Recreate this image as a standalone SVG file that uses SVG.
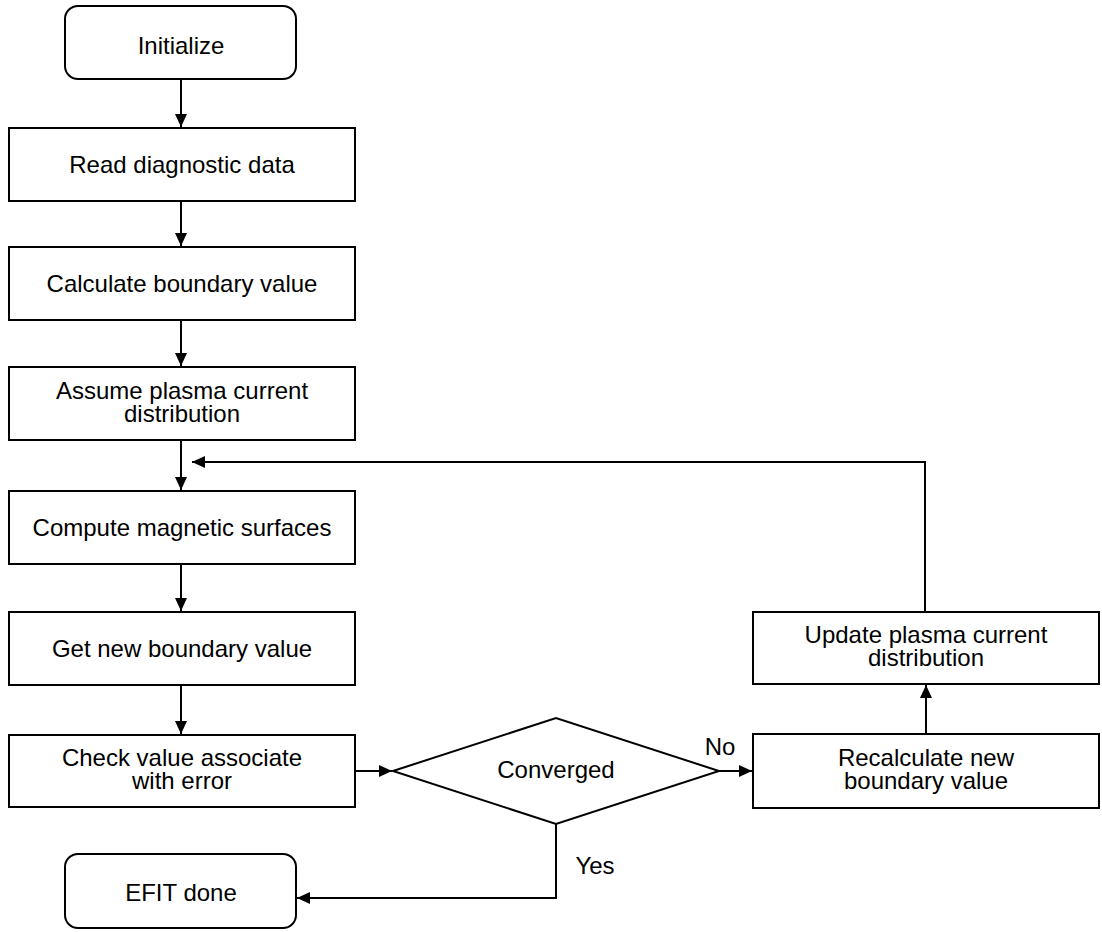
<svg xmlns="http://www.w3.org/2000/svg" width="1102" height="932" viewBox="0 0 1102 932">
<style>
.b{fill:#fff;stroke:#000;stroke-width:2}
.t{font-family:"Liberation Sans",Arial,sans-serif;font-size:24px;fill:#000;text-anchor:middle}
.c{fill:none;stroke:#000;stroke-width:2}
</style>
<defs>
<marker id="ah" markerWidth="14" markerHeight="12" refX="13" refY="6" orient="auto" markerUnits="userSpaceOnUse">
<path d="M0,0 L13,6 L0,12 Z" fill="#000"/>
</marker>
</defs>
<rect width="1102" height="932" fill="#fff"/>
<g id="connectors">
<line class="c" x1="181" y1="79" x2="181" y2="127" marker-end="url(#ah)"/>
<line class="c" x1="181" y1="201" x2="181" y2="246" marker-end="url(#ah)"/>
<line class="c" x1="181" y1="320" x2="181" y2="366" marker-end="url(#ah)"/>
<line class="c" x1="181" y1="440" x2="181" y2="490" marker-end="url(#ah)"/>
<line class="c" x1="181" y1="564" x2="181" y2="611" marker-end="url(#ah)"/>
<line class="c" x1="181" y1="686" x2="181" y2="734" marker-end="url(#ah)"/>
<line class="c" x1="355" y1="771" x2="392" y2="771" marker-end="url(#ah)"/>
<line class="c" x1="719" y1="771" x2="752" y2="771" marker-end="url(#ah)"/>
<line class="c" x1="926" y1="734" x2="926" y2="685" marker-end="url(#ah)"/>
<polyline class="c" points="925,612 925,462 192,462" marker-end="url(#ah)"/>
<polyline class="c" points="556,824 556,898 297,898" marker-end="url(#ah)"/>
<text class="t" x="720" y="755">No</text>
<text class="t" x="595" y="874">Yes</text>
</g>
<g id="initialize">
<rect class="b" x="65" y="6" width="231" height="73" rx="13"/>
<text class="t" x="181" y="54">Initialize</text>
</g>
<g id="read">
<rect class="b" x="9" y="128" width="346" height="73"/>
<text class="t" x="182" y="173">Read diagnostic data</text>
</g>
<g id="calc">
<rect class="b" x="9" y="247" width="346" height="73"/>
<text class="t" x="182" y="292">Calculate boundary value</text>
</g>
<g id="assume">
<rect class="b" x="9" y="367" width="346" height="73"/>
<text class="t" x="182" y="399">Assume plasma current</text>
<text class="t" x="182" y="422">distribution</text>
</g>
<g id="compute">
<rect class="b" x="9" y="491" width="346" height="73"/>
<text class="t" x="182" y="536">Compute magnetic surfaces</text>
</g>
<g id="getnew">
<rect class="b" x="9" y="612" width="346" height="73"/>
<text class="t" x="182" y="657">Get new boundary value</text>
</g>
<g id="check">
<rect class="b" x="9" y="735" width="346" height="72"/>
<text class="t" x="182" y="766">Check value associate</text>
<text class="t" x="182" y="789">with error</text>
</g>
<g id="converged">
<polygon class="b" points="393,771 556,718 719,771 556,824"/>
<text class="t" x="556" y="778">Converged</text>
</g>
<g id="efit">
<rect class="b" x="65" y="854" width="231" height="74" rx="13"/>
<text class="t" x="181" y="901">EFIT done</text>
</g>
<g id="recalc">
<rect class="b" x="753" y="734" width="346" height="74"/>
<text class="t" x="926" y="766">Recalculate new</text>
<text class="t" x="926" y="789">boundary value</text>
</g>
<g id="update">
<rect class="b" x="753" y="612" width="346" height="72"/>
<text class="t" x="926" y="643">Update plasma current</text>
<text class="t" x="926" y="666">distribution</text>
</g>
</svg>
